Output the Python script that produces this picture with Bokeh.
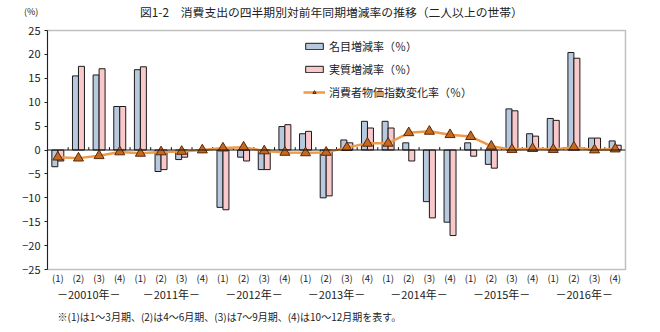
from bokeh.plotting import figure
from bokeh.models import (ColumnDataSource, FixedTicker, Range1d, LinearAxis,
                          Legend, LegendItem, Span, Title, Div)
from bokeh.layouts import column
from bokeh.transform import dodge
from bokeh.embed import file_html
from bokeh.resources import INLINE

# ---- data ----
years = ["－20010年－", "－2011年－", "－2012年－", "－2013年－",
         "－2014年－", "－2015年－", "－2016年－"]
quarter_labels = ["(1)", "(2)", "(3)", "(4)"]
y_ticks = [-25, -20, -15, -10, -5, 0, 5, 10, 15, 20, 25]

nominal = [-3.5, 15.5, 15.7, 9.1,
           16.8, -4.5, -2.0, 0.0,
           -12.0, -1.5, -4.1, 4.9,
           3.4, -10.0, 2.1, 6.0,
           6.0, 1.5, -10.8, -15.1,
           1.5, -3.0, 8.6, 3.4,
           6.6, 20.4, 2.5, 1.9]
real = [-2.3, 17.5, 17.0, 9.1,
        17.4, -4.1, -1.5, 0.0,
        -12.5, -2.3, -4.1, 5.3,
        3.9, -9.6, 1.5, 4.6,
        4.6, -2.3, -14.2, -17.9,
        -1.3, -3.8, 8.2, 2.9,
        6.2, 19.2, 2.5, 1.0]
cpi = [-1.5, -1.7, -1.2, -0.4,
       -0.7, -0.4, -0.3, 0.0,
       0.4, 0.6, -0.2, -0.5,
       -0.6, -0.5, 0.5, 1.4,
       1.4, 3.6, 3.9, 3.2,
       2.8, 0.8, 0.1, 0.3,
       0.1, 0.6, 0.0, 0.2]

title_text = "図1-2\u3000消費支出の四半期別対前年同期増減率の推移（二人以上の世帯）"
legend_labels = ["名目増減率（％）", "実質増減率（％）", "消費者物価指数変化率（％）"]
footnote = "※(1)は1～3月期、(2)は4～6月期、(3)は7～9月期、(4)は10～12月期を表す。"
unit_label = "(%)"

FONT = "Noto Sans CJK JP"
TXT = "#222222"

n = len(nominal)
xs = list(range(1, n + 1))
src = ColumnDataSource(dict(x=xs, nominal=nominal, real=real, cpi=cpi))

# ---- header (title + unit) ----
header = Div(width=660, height=18, margin=0, text=(
    f'<div style="position:relative;width:660px;height:18px;font-family:\'{FONT}\';color:{TXT};">'
    f'<span style="position:absolute;left:24px;top:7px;font-size:9px;line-height:1;white-space:nowrap;">{unit_label}</span>'
    f'<span style="position:absolute;left:140px;top:6px;font-size:11.8px;line-height:1;white-space:nowrap;">{title_text}</span>'
    '</div>'))

p = figure(width=660, height=314, output_backend="svg", toolbar_location=None,
           x_range=Range1d(0.5, n + 0.5), y_range=Range1d(-25, 25),
           min_border_left=47, min_border_right=35, min_border_top=12,
           min_border_bottom=63, margin=0)
p.background_fill_color = "white"
p.border_fill_color = "white"
p.outline_line_color = "#c0c0c0"
p.outline_line_width = 1.5
p.grid.visible = False

# y axis
yax = p.yaxis[0]
yax.ticker = FixedTicker(ticks=y_ticks)
yax.minor_tick_line_color = None
yax.major_tick_in = 0
yax.major_tick_out = 3
yax.axis_line_color = "#222222"
yax.major_tick_line_color = "#222222"
yax.major_label_text_font = FONT
yax.major_label_text_font_size = "11px"
yax.major_label_text_color = TXT
yax.major_label_standoff = 4

# x axis: quarter labels
xax = p.xaxis[0]
xax.ticker = FixedTicker(ticks=xs)
xax.major_label_overrides = {i: quarter_labels[(i - 1) % 4] for i in xs}
xax.axis_line_color = None
xax.major_tick_line_color = None
xax.minor_tick_line_color = None
xax.major_tick_in = 0
xax.major_tick_out = 0
xax.major_label_text_font = FONT
xax.major_label_text_font_size = "9.5px"
xax.major_label_text_color = TXT
xax.major_label_standoff = 1

# second x axis: year labels centred under each group of four quarters
year_pos = [4 * k + 2.5 for k in range(len(years))]
yr_ax = LinearAxis(ticker=FixedTicker(ticks=year_pos),
                   major_label_overrides={pos: years[k] for k, pos in enumerate(year_pos)})
yr_ax.axis_line_color = None
yr_ax.major_tick_line_color = None
yr_ax.minor_tick_line_color = None
yr_ax.major_tick_in = 0
yr_ax.major_tick_out = 0
yr_ax.major_label_text_font = FONT
yr_ax.major_label_text_font_size = "11px"
yr_ax.major_label_text_color = TXT
yr_ax.major_label_standoff = -2
p.add_layout(yr_ax, "below")

# footnote
foot = Title(text=footnote, align="left", offset=10, standoff=4, text_font=FONT,
             text_font_size="10px", text_font_style="normal", text_color=TXT)
p.add_layout(foot, "below")

# bars
r_nom = p.vbar(x=dodge("x", -0.145, range=p.x_range), top="nominal", width=0.29,
               source=src, fill_color="#b9c9dd", line_color="#1a1a1a", line_width=1)
r_real = p.vbar(x=dodge("x", 0.145, range=p.x_range), top="real", width=0.29,
                source=src, fill_color="#f8c8cb", line_color="#1a1a1a", line_width=1)

# zero line & category boundary ticks
p.add_layout(Span(location=0, dimension="width", line_color="#111111", line_width=1))
bounds = [i + 0.5 for i in xs[:-1]]
p.segment(x0=bounds, y0=[0] * len(bounds), x1=bounds, y1=[0.6] * len(bounds),
          line_color="#111111", line_width=1)

# CPI line
r_line = p.line("x", "cpi", source=src, line_color="#ef9a48", line_width=2.5)
r_mark = p.scatter("x", "cpi", source=src, marker="triangle", size=10,
                   fill_color="#c4691f", line_color="#5a2806", line_width=1)

legend = Legend(items=[LegendItem(label=legend_labels[0], renderers=[r_nom]),
                       LegendItem(label=legend_labels[1], renderers=[r_real]),
                       LegendItem(label=legend_labels[2], renderers=[r_line, r_mark])],
                location=(256, 168), padding=0, margin=0, spacing=4,
                glyph_width=22, glyph_height=8, label_height=19,
                label_standoff=4, border_line_color=None,
                background_fill_alpha=0,
                label_text_font=FONT, label_text_font_size="11px",
                label_text_color=TXT)
p.add_layout(legend)

layout = column(header, p, spacing=0, margin=0)
open("out.html", "w").write(file_html(layout, INLINE))
